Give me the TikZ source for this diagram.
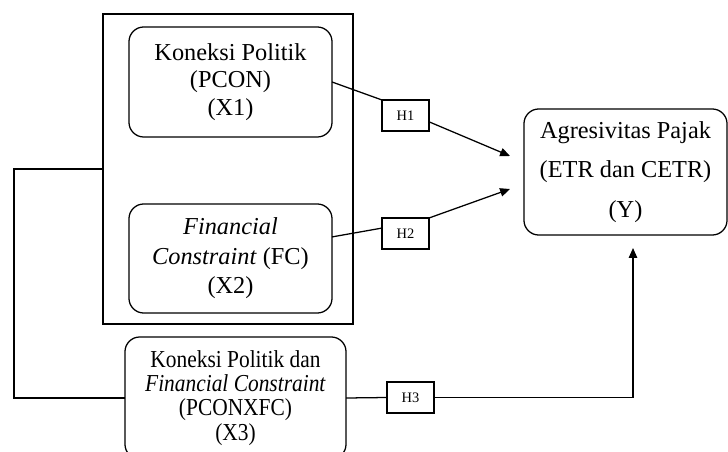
\documentclass[tikz,border=0pt]{standalone}
\usepackage{fontspec}
\setmainfont{Liberation Serif}
\newfontfamily\narrowserif[FakeStretch=0.88]{Liberation Serif}
\usetikzlibrary{positioning,arrows.meta,calc}
\tikzset{
    % Variable boxes
    varbox/.style={
        draw=black,
        fill=white,
        rounded corners=10.5pt,
        line width=0.9pt,
        outer sep=0pt,
        minimum width=5.075cm,
        minimum height=2.75cm,
        align=center,
        font=\fontsize{17.3}{19.5}\selectfont
    },
    % Hypothesis label boxes
    hypbox/.style={
        draw=black,
        fill=white,
        line width=0.8pt,
        outer sep=0pt,
        inner sep=0pt,
        minimum width=1.175cm,
        minimum height=0.775cm,
        font=\fontsize{10.3}{12}\selectfont
    },
    % Group frame round X1 and X2
    groupframe/.style={
        draw=black,
        line width=0.9pt,
        outer sep=0pt,
        minimum width=6.25cm,
        minimum height=7.75cm
    },
    % Plain connectors
    link/.style={
        line width=0.9pt,
        black
    },
    % Connectors with arrow tips
    linkarrow/.style={
        link,
        -{Triangle[length=7pt,width=6pt]}
    }
}

\begin{document}
\begin{tikzpicture}[x=0.025cm, y=-0.025cm]

\useasboundingbox (0,0) rectangle (728,452);

% ==================== GROUP FRAME ====================
\node[groupframe] (frame) at (228, 169) {};

% ==================== INDEPENDENT VARIABLES ====================
\node[varbox] (pcon) at (230.5, 82) {Koneksi Politik\\(PCON)\\(X1)};
\node[varbox, minimum height=2.725cm, font=\fontsize{17.3}{21}\selectfont] (fc) at (230.5, 258.5)
    {\textit{Financial}\\\textit{Constraint} (FC)\\(X2)};

% ==================== MODERATING VARIABLE ====================
\node[varbox, minimum width=5.525cm, minimum height=3.05cm,
      font=\narrowserif\fontsize{17.3}{17.2}\selectfont] (pconxfc) at (235.5, 398)
    {Koneksi Politik dan\\\textit{Financial Constraint}\\(PCONXFC)\\(X3)};

% ==================== DEPENDENT VARIABLE ====================
\node[varbox, minimum height=3.15cm, font=\fontsize{17.3}{28}\selectfont] (tax) at (625.5, 172)
    {Agresivitas Pajak\\(ETR dan CETR)\\(Y)};

% ==================== HYPOTHESES ====================
\node[hypbox] (h1) at (405.5, 115.5) {H1};
\node[hypbox] (h2) at (405.5, 233.5) {H2};
\node[hypbox] (h3) at (410.5, 397.5) {H3};

% Arrows: X1 and X2 to Y
\draw[link] (pcon.east) -- (h1.north west);
\draw[linkarrow] (h1.-15) -- ($(tax.west) + (-14, -16)$);
\draw[link] (fc.12) -- (h2.167);
\draw[linkarrow] (h2.north east) -- ($(tax.west) + (-14, 17)$);

% Arrow: X3 to Y
\draw[link] (pconxfc.east) -- (h3.west);
\draw[linkarrow] (h3.east) -| ($(tax.south) + (7.5, 13)$);

% Line: X3 back to the group frame
\draw[link] (pconxfc.west) -- ++(-111, 0) |- (frame.west);

\end{tikzpicture}
\end{document}
